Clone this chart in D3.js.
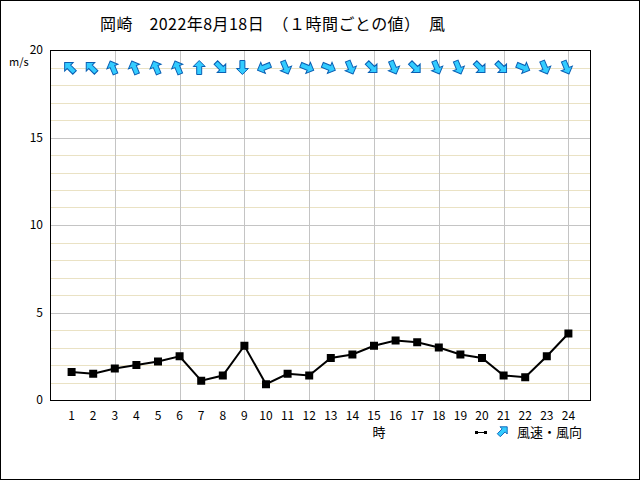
<!DOCTYPE html>
<html>
<head>
<meta charset="utf-8">
<script src="https://cdn.jsdelivr.net/npm/d3@7"></script>
<style>
  body { margin: 0; background: #fff; }
  text { font-family: "Noto Sans CJK JP", "DejaVu Sans", sans-serif; }
</style>
</head>
<body>
<script>
var titleText = "岡崎\u30002022年8月18日\u3000（１時間ごとの値）\u3000風";
var hours = [1, 2, 3, 4, 5, 6, 7, 8, 9, 10, 11, 12, 13, 14, 15, 16, 17, 18, 19, 20, 21, 22, 23, 24];
var windSpeed = [1.6, 1.5, 1.8, 2.0, 2.2, 2.5, 1.1, 1.4, 3.1, 0.9, 1.5, 1.4,
                 2.4, 2.6, 3.1, 3.4, 3.3, 3.0, 2.6, 2.4, 1.4, 1.3, 2.5, 3.8];
// wind direction (blowing from), 16 points
var windDir = ["南東", "南東", "南南東", "南南東", "南南東", "南南東", "南", "北西", "北", "東北東", "北北西", "西北西",
               "西北西", "北北西", "北西", "北北西", "北西", "北北西", "北北西", "北西", "北西", "西北西", "北北西", "北北西"];
var compass = ["北", "北北東", "北東", "東北東", "東", "東南東", "南東", "南南東",
               "南", "南南西", "南西", "西南西", "西", "西北西", "北西", "北北西"];
var yTicks = [0, 5, 10, 15, 20];
var xGridHours = [3, 6, 9, 12, 15, 18, 21, 24];

var width = 640, height = 480;
var margin = { top: 50, right: 50, bottom: 80, left: 50 };

var svg = d3.select("body")
    .append("svg")
    .attr("width", width)
    .attr("height", height);

// outer frame
svg.append("rect")
    .attr("x", 0.5).attr("y", 0.5)
    .attr("width", width - 1).attr("height", height - 1)
    .attr("fill", "#fff").attr("stroke", "#000");

var x = d3.scaleLinear().domain([0, 25]).range([margin.left, width - margin.right]);
var y = d3.scaleLinear().domain([0, 20]).range([height - margin.bottom, margin.top]);

// minor grid (every 1 m/s)
svg.append("g")
    .selectAll("line")
    .data(d3.range(1, 20).filter(function (d) { return d % 5 !== 0; }))
    .enter()
    .append("line")
    .attr("x1", x(0)).attr("x2", x(25))
    .attr("y1", function (d) { return Math.round(y(d)) + 0.5; })
    .attr("y2", function (d) { return Math.round(y(d)) + 0.5; })
    .attr("stroke", "#eae2c4");

// major grid
svg.append("g")
    .selectAll("line")
    .data([5, 10, 15])
    .enter()
    .append("line")
    .attr("x1", x(0)).attr("x2", x(25))
    .attr("y1", function (d) { return Math.round(y(d)) + 0.5; })
    .attr("y2", function (d) { return Math.round(y(d)) + 0.5; })
    .attr("stroke", "#c4c4c4");

svg.append("g")
    .selectAll("line")
    .data(xGridHours)
    .enter()
    .append("line")
    .attr("x1", function (d) { return Math.round(x(d)) + 0.5; })
    .attr("x2", function (d) { return Math.round(x(d)) + 0.5; })
    .attr("y1", y(0)).attr("y2", y(20))
    .attr("stroke", "#c4c4c4");

// plot frame
svg.append("rect")
    .attr("x", x(0) + 0.5).attr("y", y(20) + 0.5)
    .attr("width", x(25) - x(0)).attr("height", y(0) - y(20))
    .attr("fill", "none").attr("stroke", "#000");

// y axis labels
svg.append("g")
    .selectAll("text")
    .data(yTicks)
    .enter()
    .append("text")
    .attr("x", x(0) - 7)
    .attr("y", function (d) { return y(d) + 4; })
    .attr("text-anchor", "end")
    .attr("font-size", 12)
    .text(function (d) { return d; });

svg.append("text")
    .attr("x", 9).attr("y", 66)
    .attr("font-size", 11)
    .text("m/s");

// x axis labels
svg.append("g")
    .selectAll("text")
    .data(hours)
    .enter()
    .append("text")
    .attr("x", function (d) { return x(d); })
    .attr("y", 420)
    .attr("text-anchor", "middle")
    .attr("font-size", 12)
    .text(function (d) { return d; });

svg.append("text")
    .attr("x", 379).attr("y", 437)
    .attr("text-anchor", "middle")
    .attr("font-size", 13)
    .text("時");

// title
svg.append("text")
    .attr("x", 100).attr("y", 30)
    .attr("font-size", 16)
    .attr("textLength", 345)
    .attr("lengthAdjust", "spacing")
    .text(titleText);

// speed line
var line = d3.line()
    .x(function (d, i) { return x(hours[i]); })
    .y(function (d) { return y(d); });

svg.append("path")
    .datum(windSpeed)
    .attr("d", line)
    .attr("fill", "none")
    .attr("stroke", "#000")
    .attr("stroke-width", 2);

svg.append("g")
    .selectAll("rect")
    .data(windSpeed)
    .enter()
    .append("rect")
    .attr("x", function (d, i) { return x(hours[i]) - 4; })
    .attr("y", function (d) { return y(d) - 4; })
    .attr("width", 8).attr("height", 8)
    .attr("fill", "#000");

// arrow shape pointing up, centred at 0,0
var arrowPath = "M0,-7 L6,-1 L2.5,-1 L2.5,7 L-2.5,7 L-2.5,-1 L-6,-1 Z";

function arrowAngle(dir) {
    // arrow points downwind: from-direction + 180
    return compass.indexOf(dir) * 22.5 + 180;
}

svg.append("g")
    .selectAll("path")
    .data(windDir)
    .enter()
    .append("path")
    .attr("d", arrowPath)
    .attr("transform", function (d, i) {
        return "translate(" + (x(hours[i]) - 2) + "," + y(19) + ") rotate(" + arrowAngle(d) + ")";
    })
    .attr("fill", "#33ccff")
    .attr("stroke", "#0a5fb4")
    .attr("stroke-width", 1);

// legend
var lg = svg.append("g");
lg.append("line")
    .attr("x1", 475).attr("x2", 487)
    .attr("y1", 432.5).attr("y2", 432.5)
    .attr("stroke", "#000").attr("stroke-width", 1);
lg.append("rect")
    .attr("x", 475).attr("y", 431).attr("width", 3).attr("height", 3).attr("fill", "#000");
lg.append("rect")
    .attr("x", 484).attr("y", 431).attr("width", 3).attr("height", 3).attr("fill", "#000");
lg.append("path")
    .attr("d", arrowPath)
    .attr("transform", "translate(503,431) rotate(45) scale(0.85)")
    .attr("fill", "#33ccff")
    .attr("stroke", "#0a5fb4");
lg.append("text")
    .attr("x", 517).attr("y", 437)
    .attr("font-size", 13)
    .text("風速・風向");
</script>
</body>
</html>
